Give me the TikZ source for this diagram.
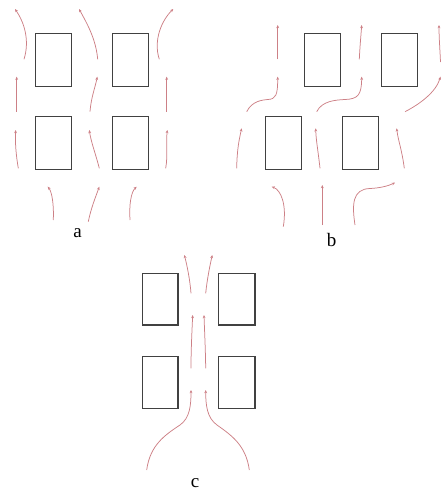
\documentclass[tikz,border=0pt]{standalone}
\usepackage{fontspec}
\setmainfont{Liberation Serif}
\usetikzlibrary{arrows.meta}
\definecolor{flow}{RGB}{205,128,134}
\definecolor{boxc}{RGB}{65,65,65}
\tikzset{
  flowline/.style={draw=flow, line width=0.75pt, -{Stealth[length=3.2pt,width=2.8pt]}},
  bldg/.style={draw=boxc, line width=1.1pt},
  lbl/.style={font=\fontsize{19}{19}\selectfont, inner sep=0pt}
}
\begin{document}
\begin{tikzpicture}[x=1pt,y=-1pt]
\useasboundingbox (0,0) rectangle (441,491);
% ---------- panel a ----------
\draw[bldg] (35.7,33.7) rectangle (71.7,86.3);
\draw[bldg] (112.3,33.7) rectangle (148.7,86.3);
\draw[bldg] (35.7,116.7) rectangle (71.7,169.7);
\draw[bldg] (112.3,116.7) rectangle (148.7,169.7);
\draw[flowline] (24,59.3) .. controls (30,40) and (24,22) .. (15,9);
\draw[flowline] (97.7,59.3) .. controls (96,40) and (88,25) .. (79,9);
\draw[flowline] (159.3,59.3) .. controls (153,40) and (162,20) .. (173.3,9);
\draw[flowline] (16.7,111.7) -- (16.7,76.7);
\draw[flowline] (90,111.7) .. controls (91,98) and (95,88) .. (97.3,76.7);
\draw[flowline] (166.7,111.7) -- (166.7,76.7);
\draw[flowline] (18.3,168.3) .. controls (16,155) and (15,142) .. (15.7,130);
\draw[flowline] (99.3,168.3) .. controls (96,155) and (91,142) .. (89.3,130);
\draw[flowline] (165.7,168.3) .. controls (168,155) and (166,142) .. (167.3,130);
\draw[flowline] (53.3,220) .. controls (54,205) and (52,192) .. (47.7,186.7);
\draw[flowline] (88.3,221.7) .. controls (91,208) and (96,196) .. (99.3,186.7);
\draw[flowline] (130,220) .. controls (129,205) and (131,192) .. (136.7,186.7);
\node[lbl] (la) at (77.7,232.7) {a};
% ---------- panel b ----------
\draw[bldg] (304.3,33.7) rectangle (340.3,86.3);
\draw[bldg] (381.3,33.7) rectangle (417.3,86.3);
\draw[bldg] (265.3,116.7) rectangle (301.7,169.7);
\draw[bldg] (342.3,116.7) rectangle (378.7,169.7);
\draw[flowline] (277.7,59.3) -- (277.7,25);
\draw[flowline] (359.3,59.3) .. controls (360,45) and (361,35) .. (361.7,25);
\draw[flowline] (440.5,62) .. controls (440,50) and (439,38) .. (439,25);
\draw[flowline] (246.7,111.7) .. controls (252,101) and (262,100) .. (268,99.5) .. controls (276,99) and (277.7,95) .. (277.7,76.7);
\draw[flowline] (316.7,111.7) .. controls (322,101) and (335,100) .. (345,99.5) .. controls (358,99) and (361.5,95) .. (361.7,76.7);
\draw[flowline] (405,111.7) .. controls (420,104) and (436,92) .. (440.5,76.7);
\draw[flowline] (236.7,168.3) .. controls (237,150) and (239,140) .. (241.7,128.3);
\draw[flowline] (320,168.3) .. controls (318,150) and (316,140) .. (315.7,128.3);
\draw[flowline] (404.3,168.3) .. controls (402,150) and (398,140) .. (396.7,128.3);
\draw[flowline] (283.3,226.7) .. controls (287,205) and (281,190) .. (271.7,186.7);
\draw[flowline] (322.3,225) -- (322.3,185);
\draw[flowline] (355,225) .. controls (352,205) and (352,189) .. (370,188.5) .. controls (380,188) and (388,186) .. (395,182.7);
\node[lbl] (lb) at (331.7,240) {b};
% ---------- panel c ----------
\draw[bldg] (142.3,273.3) rectangle (178,325);
\draw[bldg] (218.7,273.3) rectangle (255,325);
\draw[bldg] (142.3,356.7) rectangle (178,408.3);
\draw[bldg] (218.7,356.7) rectangle (255,408.3);
\draw[flowline] (191,293.3) .. controls (190,280) and (187,265) .. (184.3,255);
\draw[flowline] (205.7,293.3) .. controls (207,280) and (210,265) .. (212.3,255);
\draw[flowline] (191,368.3) .. controls (191,350) and (192,330) .. (192.7,315);
\draw[flowline] (205.7,368.3) .. controls (205.5,350) and (204.5,330) .. (204,315);
\draw[flowline] (146.7,470) .. controls (150,445) and (165,435) .. (180,425) .. controls (190,418) and (191,405) .. (191,390);
\draw[flowline] (249.3,470) .. controls (246,445) and (231,435) .. (217,425) .. controls (207,418) and (205.7,405) .. (205.7,390);
\node[lbl] (lc) at (195,483.3) {c};
\end{tikzpicture}
\end{document}
